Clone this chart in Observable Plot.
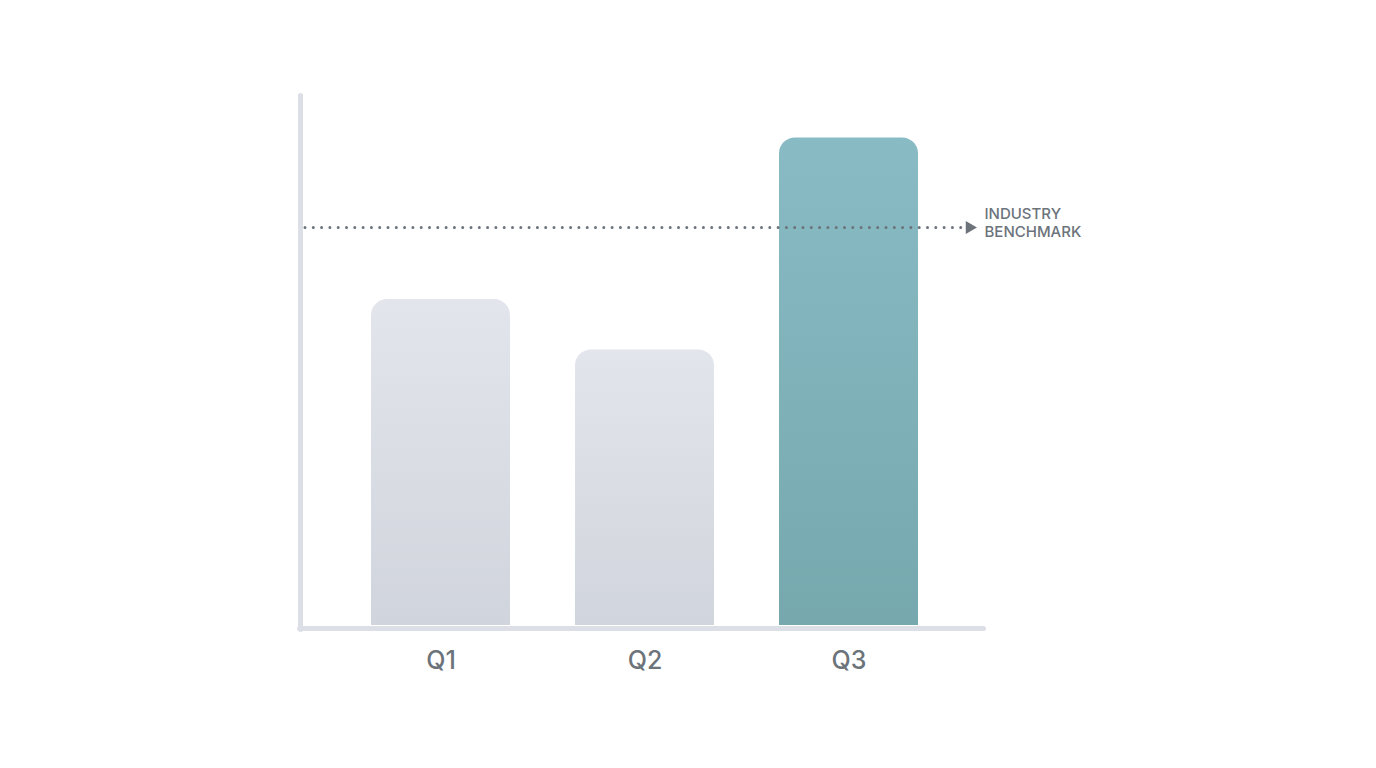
<!DOCTYPE html>
<html>
<head>
<meta charset="utf-8">
<script src="https://cdn.jsdelivr.net/npm/d3@7"></script>
<script src="https://cdn.jsdelivr.net/npm/@observablehq/plot@0.6"></script>
<style>
  html, body { margin: 0; padding: 0; background: #ffffff; }
  #chart svg { display: block; }
</style>
</head>
<body>
<div id="chart"></div>
<script>
const quarters = ["Q1", "Q2", "Q3"];
const values = [61.5, 52, 92];
const highlight = [false, false, true];
const benchmark = [75.1];
const benchmarkLabel = "INDUSTRY\nBENCHMARK";

const data = quarters.map((q, i) => ({ quarter: q, value: values[i], hi: highlight[i] }));

const plot = Plot.plot({
  width: 1376,
  height: 768,
  marginLeft: 305,
  marginRight: 392,
  marginTop: 95,
  marginBottom: 143,
  style: { background: "transparent", fontFamily: "Inter, 'Noto Sans', sans-serif" },
  x: { domain: quarters, padding: 0.32, label: null },
  y: { domain: [0, 100], axis: null },
  marks: [
    Plot.barY(data, {
      x: "quarter",
      y: "value",
      fill: d => d.hi ? "url(#gradHi)" : "url(#gradLo)",
      rx: 16,
      insetBottom: -26,
      clip: true
    }),
    Plot.frame({ anchor: "left", stroke: "#dcdfe5", strokeWidth: 5, strokeLinecap: "round", dx: -5, insetBottom: -4 }),
    Plot.frame({ anchor: "bottom", stroke: "#dcdfe5", strokeWidth: 5, strokeLinecap: "round", dy: 3, insetLeft: -6, insetRight: 1 }),
    Plot.ruleY(benchmark, {
      stroke: "#6c737a",
      strokeWidth: 3,
      strokeDasharray: "0 8.3",
      strokeLinecap: "round",
      insetLeft: 0,
      insetRight: 22
    }),
    Plot.dot(benchmark, {
      y: d => d,
      frameAnchor: "right",
      symbol: "triangle",
      rotate: 90,
      r: 4.8,
      fill: "#6c737a",
      stroke: null,
      dx: -15
    }),
    Plot.text(benchmark, {
      y: d => d,
      text: () => benchmarkLabel,
      frameAnchor: "right",
      textAnchor: "start",
      dx: 0,
      dy: -5,
      lineHeight: 1.22,
      fontSize: 15,
      fontWeight: 500,
      fill: "#6c737a"
    }),
    Plot.axisX({ tickSize: 0, tickPadding: 26, fontSize: 25, fontWeight: 500, fill: "#6c737a", label: null })
  ]
});

const svg = d3.select(plot);
const defs = svg.insert("defs", ":first-child");
const lo = defs.append("linearGradient").attr("id", "gradLo").attr("x1", 0).attr("y1", 0).attr("x2", 0).attr("y2", 1);
lo.append("stop").attr("offset", "0%").attr("stop-color", "#e2e5ec");
lo.append("stop").attr("offset", "100%").attr("stop-color", "#cfd3db");
const hi = defs.append("linearGradient").attr("id", "gradHi").attr("x1", 0).attr("y1", 0).attr("x2", 0).attr("y2", 1);
hi.append("stop").attr("offset", "0%").attr("stop-color", "#88bbc4");
hi.append("stop").attr("offset", "100%").attr("stop-color", "#75a7ad");

document.getElementById("chart").appendChild(plot);
</script>
</body>
</html>
